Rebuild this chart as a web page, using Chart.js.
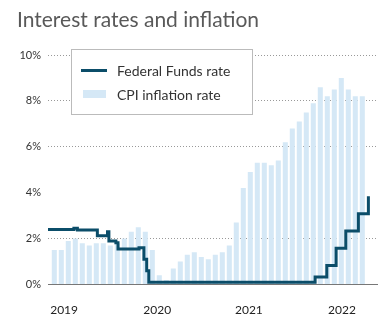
<!DOCTYPE html>
<html>
<head>
<meta charset="utf-8">
<script src="https://cdn.jsdelivr.net/npm/chart.js@4"></script>
<style>
  body { margin: 0; background: #fff; overflow: hidden; font-family: Lato, sans-serif; }
  .wrap { position: relative; width: 390px; height: 321px; }
  .title { position: absolute; left: 17px; top: 6px; font-size: 21px; color: #595959; line-height: normal; white-space: nowrap; }
  .legend { position: absolute; left: 71px; top: 49px; width: 180px; height: 64px; border: 1px solid #bbb; background: #fff; }
  .legend .row { position: absolute; left: 0; width: 180px; height: 17px; }
  .legend .sw { position: absolute; }
  .legend .txt { position: absolute; left: 45px; top: 0; font-size: 14px; line-height: 17px; color: #333; white-space: nowrap; }
</style>
</head>
<body>
<div class="wrap">
  <canvas id="myChart" width="390" height="321"></canvas>
  <div class="title">Interest rates and inflation</div>
  <div class="legend" id="legend"></div>
</div>
<script>
// months counted from Jan 2019 = 0
const cpiValues = [1.5, 1.5, 1.9, 2.0, 1.8, 1.7, 1.8, 1.8, 1.7, 1.8,
  2.0, 2.3, 2.5, 2.3, 1.5, 0.4, 0.2, 0.7, 1.0, 1.3,
  1.4, 1.2, 1.1, 1.3, 1.4, 1.7, 2.7, 4.2, 4.9, 5.3,
  5.3, 5.2, 5.4, 6.2, 6.8, 7.1, 7.5, 7.9, 8.6, 8.2,
  8.5, 9.0, 8.5, 8.2, 8.2]

// fed funds: month where the level changes, and the new level
const fedMonths = [-0.9, 2.8, 3.3, 6.15, 7.6, 7.8, 8.8, 9.1, 12.1, 12.8, 13.2, 13.5, 37.26, 38.93, 40.26, 41.64, 43.44, 44.87]
const fedRates = [2.40, 2.45, 2.38, 2.12, 2.30, 1.90, 1.82, 1.55, 1.60, 1.10, 0.60, 0.10, 0.33, 0.83, 1.58, 2.33, 3.08, 3.85]

const xTickPositions = [1.4, 14.7, 27.8, 41.1]
const xTickLabels = ['2019', '2020', '2021', '2022']
const yTicks = [0, 2, 4, 6, 8, 10]

const lineColor = '#0b4d69'
const barColor = '#d5e8f6'

const cpiData = cpiValues.map((v, i) => ({ x: i, y: v }))
const fedData = fedMonths.map((m, i) => ({ x: m, y: fedRates[i] }))

const chart = new Chart(document.getElementById('myChart'), {
  type: 'bar',
  data: {
    datasets: [{
      type: 'line',
      label: 'Federal Funds rate',
      data: fedData,
      borderColor: lineColor,
      backgroundColor: lineColor,
      borderWidth: 3,
      stepped: 'before',
      pointRadius: 0,
      fill: false,
      order: 0
    }, {
      type: 'bar',
      label: 'CPI inflation rate',
      data: cpiData,
      backgroundColor: barColor,
      borderWidth: 0,
      barPercentage: 0.72,
      categoryPercentage: 1,
      order: 1
    }]
  },
  options: {
    responsive: false,
    animation: false,
    layout: { padding: { top: 55, right: 13, left: 0, bottom: 0 } },
    plugins: {
      legend: { display: false },
      tooltip: { enabled: false }
    },
    scales: {
      x: {
        type: 'linear',
        offset: false,
        min: -0.9,
        max: 46.1,
        grid: { display: false },
        border: { display: true, color: '#777', width: 1 },
        afterBuildTicks: (scale) => {
          scale.ticks = xTickPositions.map(v => ({ value: v }))
        },
        afterFit: (scale) => { scale.height = 36.5 },
        ticks: {
          autoSkip: false,
          maxRotation: 0,
          padding: 10,
          color: '#222',
          font: { family: 'Lato', size: 12 },
          callback: (v, i) => xTickLabels[i]
        }
      },
      y: {
        min: 0,
        max: 10,
        afterBuildTicks: (scale) => {
          scale.ticks = yTicks.map(v => ({ value: v }))
        },
        afterFit: (scale) => { scale.width = 48 },
        grid: {
          drawTicks: false,
          color: (ctx) => (ctx.tick && (ctx.tick.value === 0 || ctx.tick.value === 4)) ? 'rgba(0,0,0,0)' : '#999',
          lineWidth: 1
        },
        border: { display: false, dash: [1, 2] },
        ticks: {
          padding: 7,
          color: '#333',
          font: { family: 'Lato', size: 11 },
          callback: (v) => v + '%'
        }
      }
    }
  }
})

// legend box built from the datasets
const legendEl = document.getElementById('legend')
const rowTops = [12, 36]
chart.data.datasets.forEach((ds, i) => {
  const row = document.createElement('div')
  row.className = 'row'
  row.style.top = rowTops[i] + 'px'
  const sw = document.createElement('span')
  sw.className = 'sw'
  if (ds.type === 'line') {
    sw.style.left = '9px'; sw.style.width = '26px'; sw.style.height = '3px'; sw.style.top = '7px'
    sw.style.background = ds.borderColor
  } else {
    sw.style.left = '11px'; sw.style.width = '23px'; sw.style.height = '8px'; sw.style.top = '4px'
    sw.style.background = ds.backgroundColor
  }
  const txt = document.createElement('span')
  txt.className = 'txt'
  txt.textContent = ds.label
  row.appendChild(sw)
  row.appendChild(txt)
  legendEl.appendChild(row)
})
</script>
</body>
</html>
